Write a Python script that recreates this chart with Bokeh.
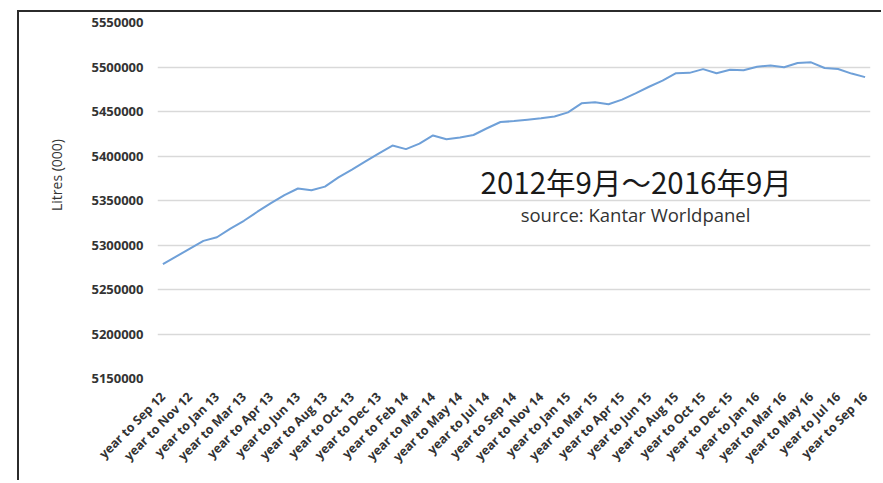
import math
from bokeh.plotting import figure
from bokeh.models import FixedTicker, BasicTickFormatter, Label
from bokeh.embed import file_html
from bokeh.resources import INLINE

tick_labels = ["year to Sep 12", "year to Nov 12", "year to Jan 13", "year to Mar 13",
               "year to Apr 13", "year to Jun 13", "year to Aug 13", "year to Oct 13",
               "year to Dec 13", "year to Feb 14", "year to Mar 14", "year to May 14",
               "year to Jul 14", "year to Sep 14", "year to Nov 14", "year to Jan 15",
               "year to Mar 15", "year to Apr 15", "year to Jun 15", "year to Aug 15",
               "year to Oct 15", "year to Dec 15", "year to Jan 16", "year to Mar 16",
               "year to May 16", "year to Jul 16", "year to Sep 16"]

litres = [5278500, 5287200, 5295900, 5304600, 5308700, 5318500, 5327200, 5337400,
          5347000, 5356100, 5363500, 5361500, 5365600, 5375900, 5384800, 5393900,
          5403000, 5411700, 5407700, 5413900, 5423100, 5418800, 5420900, 5423600,
          5431200, 5438200, 5439200, 5440800, 5442400, 5444400, 5449000, 5459200,
          5460300, 5458200, 5463300, 5470300, 5477800, 5484700, 5493100, 5493400,
          5497600, 5493000, 5497000, 5496400, 5500300, 5501700, 5499700, 5504500,
          5505200, 5498900, 5497700, 5492600, 5488600]

y_ticks = [5150000, 5200000, 5250000, 5300000, 5350000, 5400000, 5450000, 5500000, 5550000]

title_text = "2012年9月～2016年9月"
source_text = "source: Kantar Worldpanel"
axis_title = "Litres (000)"

x = list(range(len(litres)))
tick_pos = list(range(0, len(litres), 2))

p = figure(width=864, height=470, output_backend="svg", toolbar_location=None,
           x_range=(-0.4, len(litres) - 0.6), y_range=(y_ticks[0], y_ticks[-1]),
           min_border_left=138, min_border_right=13, min_border_top=10, min_border_bottom=104,
           margin=(10, 0, 0, 17),
           styles={"border-top": "2px solid #2b2b2b", "border-left": "2px solid #2b2b2b"})
p.background_fill_color = "white"
p.border_fill_color = "white"
p.outline_line_color = None

p.line(x, litres, line_color="#6fa0d8", line_width=2)

p.xgrid.grid_line_color = None
p.ygrid.grid_line_color = "#d9d9d9"
p.ygrid.grid_line_width = 1.5
p.ygrid.ticker = FixedTicker(ticks=y_ticks)

p.yaxis.ticker = FixedTicker(ticks=y_ticks)
p.yaxis.formatter = BasicTickFormatter(use_scientific=False)
p.yaxis.axis_line_color = None
p.yaxis.major_tick_line_color = None
p.yaxis.minor_tick_line_color = None
p.yaxis.major_label_standoff = 8
p.yaxis.major_label_text_font = "Open Sans"
p.yaxis.major_label_text_font_size = "13px"
p.yaxis.major_label_text_font_style = "bold"
p.yaxis.major_label_text_color = "#333333"
p.yaxis.axis_label = "\u00a0" * 14 + axis_title
p.yaxis.axis_label_standoff = 22
p.yaxis.axis_label_text_font = "Open Sans"
p.yaxis.axis_label_text_font_size = "14px"
p.yaxis.axis_label_text_font_style = "normal"
p.yaxis.axis_label_text_color = "#333333"

p.xaxis.ticker = FixedTicker(ticks=tick_pos)
p.xaxis.major_label_overrides = {pos: lab for pos, lab in zip(tick_pos, tick_labels)}
p.xaxis.major_label_orientation = math.pi / 4
p.xaxis.axis_line_color = None
p.xaxis.major_tick_line_color = None
p.xaxis.minor_tick_line_color = None
p.xaxis.major_label_standoff = 10
p.xaxis.major_label_text_font = "Open Sans"
p.xaxis.major_label_text_font_size = "12.5px"
p.xaxis.major_label_text_font_style = "bold"
p.xaxis.major_label_text_color = "#333333"

p.add_layout(Label(x=35.05, y=5372400, text=title_text, text_align="center",
                   text_baseline="middle", text_font="Noto Sans CJK JP",
                   text_font_size="29.5px", text_color="#1a1a1a"))
p.add_layout(Label(x=35.0, y=5334100, text=source_text, text_align="center",
                   text_baseline="middle", text_font="Open Sans",
                   text_font_size="18.5px", text_color="#333333"))

open("out.html", "w").write(file_html(p, INLINE))
